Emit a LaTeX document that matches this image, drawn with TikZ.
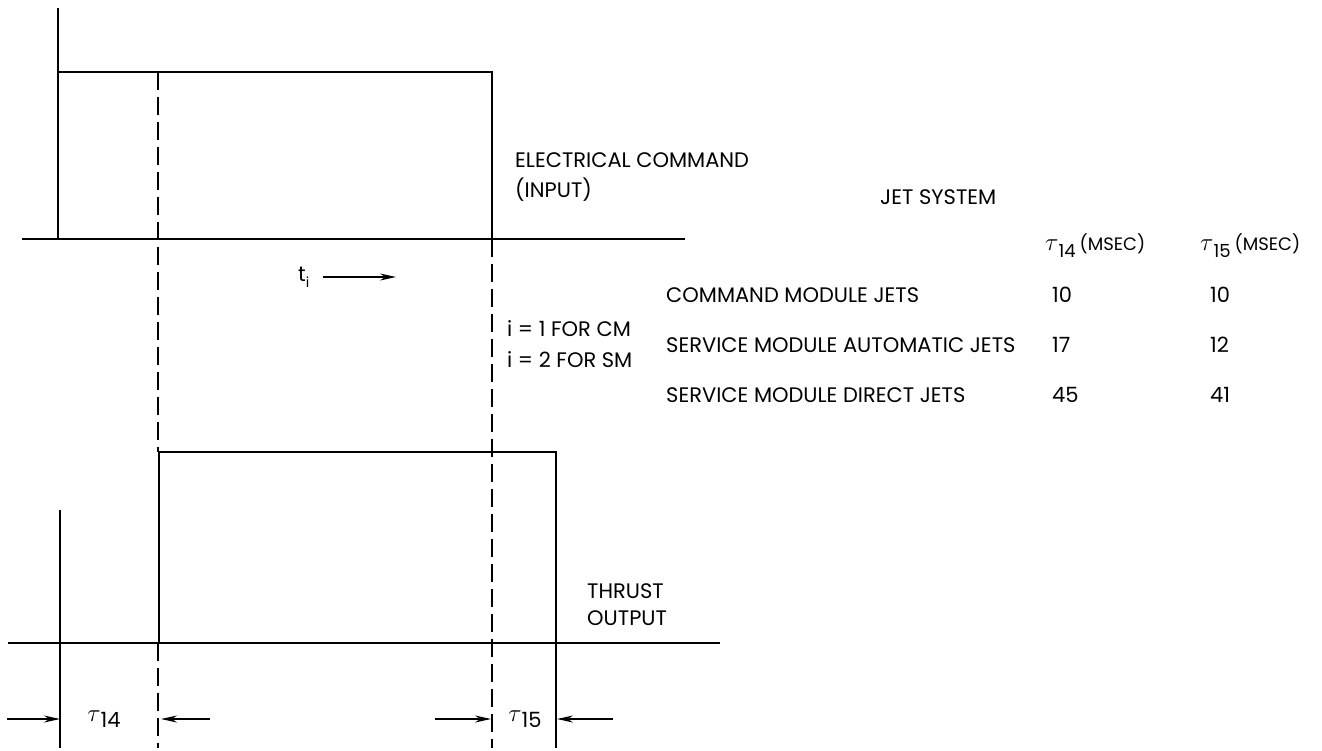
\documentclass[tikz,border=0pt]{standalone}
\usepackage{fontspec}
\setmainfont{Poppins}
\usetikzlibrary{arrows.meta}
\newcommand{\tauof}[1]{{\fontsize{26}{28}\selectfont$\tau$}\raisebox{-0.5ex}{#1}}
\newcommand{\tauhead}[1]{{\fontsize{24}{26}\selectfont$\tau$}\raisebox{-0.6ex}{\fontsize{18}{20}\selectfont #1}\kern4pt{\fontsize{18}{20}\selectfont (MSEC)}}
\begin{document}
\begin{tikzpicture}[x=1pt,y=-1pt]
\useasboundingbox (0,0) rectangle (1322,750);
\tikzset{
  sig/.style={line width=1.8pt},
  guide/.style={line width=1.2pt, dash pattern=on 18pt off 7pt},
  lbl/.style={anchor=west, inner sep=0pt, font=\fontsize{21}{24}\selectfont},
  taulbl/.style={anchor=center, inner sep=0pt, font=\fontsize{21}{24}\selectfont},
  dimarrow/.style={-{Stealth[length=16pt,width=7pt]}, line width=1.3pt}
}
% top signal
\coordinate (tA) at (58,8);
\coordinate (tB) at (58,239);
\coordinate (tC) at (58,72);
\coordinate (tD) at (492,72);
\coordinate (tE) at (492,239);
\coordinate (tL) at (22,239);
\coordinate (tR) at (685,239);
\draw[sig] (tA) -- (tB);
\draw[sig] (tC) -- (tD) -- (tE);
\draw[sig] (tL) -- (tR);
% bottom signal
\coordinate (bA) at (60,510);
\coordinate (bB) at (60,748);
\coordinate (bC) at (159,643);
\coordinate (bD) at (159,452);
\coordinate (bE) at (556,452);
\coordinate (bF) at (556,748);
\coordinate (bL) at (8,643);
\coordinate (bR) at (720,643);
\draw[sig] (bA) -- (bB);
\draw[sig] (bC) -- (bD) -- (bE) -- (bF);
\draw[sig] (bL) -- (bR);
% dashed guides
\coordinate (g1a) at (158,72);
\coordinate (g1b) at (158,452);
\coordinate (g1c) at (158,643);
\coordinate (g1d) at (158,748);
\coordinate (g2a) at (492,239);
\coordinate (g2b) at (492,748);
\draw[guide] (g1a) -- (g1b);
\draw[guide] (g1c) -- (g1d);
\draw[guide] (g2a) -- (g2b);
% dimension arrows
\coordinate (d1s) at (7,719);  \coordinate (d1e) at (60,719);
\coordinate (d2s) at (210,719); \coordinate (d2e) at (161,719);
\coordinate (d3s) at (435,719); \coordinate (d3e) at (491,719);
\coordinate (d4s) at (613,719); \coordinate (d4e) at (557,719);
\draw[dimarrow] (d1s) -- (d1e);
\draw[dimarrow] (d2s) -- (d2e);
\draw[dimarrow] (d3s) -- (d3e);
\draw[dimarrow] (d4s) -- (d4e);
\node[taulbl] (tau14) at (104,719) {\tauof{14}};
\node[taulbl] (tau15) at (525,719) {\tauof{15}};
% time arrow
\node[lbl] (ti) at (298,277) {t\raisebox{-0.5ex}{\fontsize{14}{16}\selectfont i}};
\coordinate (tiS) at (323,277);
\coordinate (tiE) at (396,277);
\draw[dimarrow] (tiS) -- (tiE);
% labels
\node[lbl] (ec1) at (515,160) {ELECTRICAL COMMAND};
\node[lbl] (ec2) at (515,190) {(INPUT)};
\node[lbl] (js) at (880,197) {JET SYSTEM};
\node[lbl] (i1) at (507,329) {i = 1 FOR CM};
\node[lbl] (i2) at (507,360) {i = 2 FOR SM};
\node[lbl] (th1) at (587,591) {THRUST};
\node[lbl] (th2) at (587,618) {OUTPUT};
\node[lbl] (h14) at (1045,246) {\tauhead{14}};
\node[lbl] (h15) at (1200,246) {\tauhead{15}};
\node[lbl] (r1) at (666,295) {COMMAND MODULE JETS};
\node[lbl] (r2) at (666,345) {SERVICE MODULE AUTOMATIC JETS};
\node[lbl] (r3) at (666,395) {SERVICE MODULE DIRECT JETS};
\node[lbl] (v11) at (1052,295) {10};
\node[lbl] (v12) at (1210,295) {10};
\node[lbl] (v21) at (1052,345) {17};
\node[lbl] (v22) at (1210,345) {12};
\node[lbl] (v31) at (1052,395) {45};
\node[lbl] (v32) at (1210,395) {41};
\end{tikzpicture}
\end{document}
